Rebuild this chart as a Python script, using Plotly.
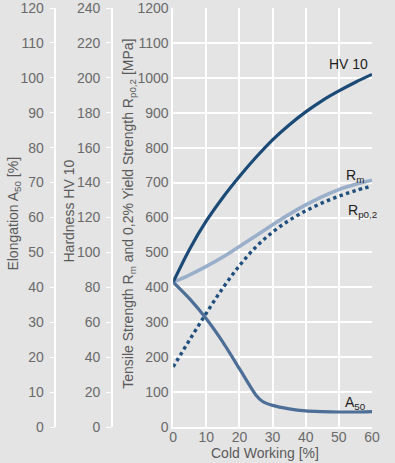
import plotly.graph_objects as go

# Cold working [%]
cold_working = [0, 5, 10, 15, 20, 25, 30, 35, 40, 45, 50, 55, 60]
# Hardness HV 10
hv10 = [83, 102, 118, 131.5, 143.5, 154.5, 164.5, 173, 180.5, 187, 192.5, 197.5, 202]
# Tensile strength Rm [MPa]
rm = [415, 436, 460, 487, 517, 548, 579, 609, 636, 660, 680, 695, 707]
# Yield strength Rp0,2 [MPa]
rp02 = [172, 250, 326, 398, 462, 516, 558, 592, 619, 642, 661, 677, 690]
# Elongation A50 [%]
a50_x = [0, 5, 10, 15, 20, 25, 27, 30, 35, 40, 45, 50, 55, 60]
a50 = [41.5, 36.7, 31, 24.3, 16.7, 9.1, 7.3, 6.2, 5.2, 4.6, 4.4, 4.3, 4.3, 4.4]

mpa_ticks = list(range(0, 1201, 100))
hv_ticks = list(range(0, 241, 20))
a_ticks = list(range(0, 121, 10))
x_ticks = list(range(0, 61, 10))

BG = "#e4e4e4"
TICKCOL = "#6a6a6a"
FONT = "Liberation Sans, Arial, sans-serif"

W, H = 395, 463
ML, MR, MT, MB = 0, 23, 7, 36
PW = W - ML - MR
PH = H - MT - MB
XL = 171  # left edge of plot area in px

fig = go.Figure()
fig.add_trace(go.Scatter(x=a50_x, y=a50, yaxis="y3", mode="lines",
                         line=dict(color="#4c6e97", width=3.2, shape="spline", smoothing=0.6),
                         showlegend=False, hoverinfo="skip"))
fig.add_trace(go.Scatter(x=cold_working, y=rm, yaxis="y", mode="lines",
                         line=dict(color="#9aafca", width=3.6, shape="spline", smoothing=1.0),
                         showlegend=False, hoverinfo="skip"))
fig.add_trace(go.Scatter(x=cold_working, y=rp02, yaxis="y", mode="lines",
                         line=dict(color="#1f4f7e", width=3.4, dash="dot", shape="spline", smoothing=1.0),
                         showlegend=False, hoverinfo="skip"))
fig.add_trace(go.Scatter(x=cold_working, y=hv10, yaxis="y2", mode="lines",
                         line=dict(color="#1b4a77", width=3.2, shape="spline", smoothing=1.0),
                         showlegend=False, hoverinfo="skip"))

axis_common = dict(showline=True, linecolor="white", linewidth=1.5,
                   tickfont=dict(family=FONT, size=14, color=TICKCOL),
                   zeroline=False, ticklabeloverflow="allow")
side_ticks = dict(ticks="outside", ticklen=5, tickcolor="white", tickwidth=1,
                  ticklabelstandoff=3)

fig.update_layout(
    width=W, height=H,
    margin=dict(l=ML, r=MR, t=MT, b=MB, pad=0),
    paper_bgcolor=BG, plot_bgcolor=BG,
    font=dict(family=FONT),
    xaxis=dict(domain=[XL / PW, 1], range=[0, 60], tickvals=x_ticks, ticks="",
               ticklabelstandoff=-4,
               showgrid=True, gridcolor="white", gridwidth=1.5,
               **axis_common),
    yaxis=dict(range=[0, 1200], tickvals=mpa_ticks, anchor="x", ticks="",
               showgrid=True, gridcolor="white", gridwidth=1.5,
               **axis_common),
    yaxis2=dict(range=[0, 240], tickvals=hv_ticks, overlaying="y", anchor="free",
                position=109 / PW, side="left", showgrid=False, **side_ticks, **axis_common),
    yaxis3=dict(range=[0, 120], tickvals=a_ticks, overlaying="y", anchor="free",
                position=52 / PW, side="left", showgrid=False, **side_ticks, **axis_common),
)

title_font = dict(family=FONT, size=14, color="#5a5a5a")
ann = []
# axis titles
ann.append(dict(text="Elongation A<sub>50</sub> [%]", xref="paper", yref="paper",
                x=9.7 / PW, y=(MT + PH - 213.5) / PH, textangle=-90, showarrow=False,
                font=title_font, xanchor="center", yanchor="middle"))
ann.append(dict(text="Hardness HV 10", xref="paper", yref="paper",
                x=65.7 / PW, y=(MT + PH - 210) / PH, textangle=-90, showarrow=False,
                font=title_font, xanchor="center", yanchor="middle"))
ann.append(dict(text="Tensile Strength R<sub>m</sub> and 0,2% Yield Strength R<sub>p0,2</sub> [MPa]",
                xref="paper", yref="paper",
                x=125.6 / PW, y=(MT + PH - 213) / PH, textangle=-90, showarrow=False,
                font=title_font, xanchor="center", yanchor="middle"))
ann.append(dict(text="Cold Working [%]", xref="paper", yref="paper",
                x=263.7 / PW, y=0, yshift=-26, showarrow=False,
                font=title_font, xanchor="center", yanchor="middle"))
# curve labels
lab_font = dict(family=FONT, size=14, color="#1e1e1e")
ann.append(dict(text="HV 10", xref="x", yref="y", x=52.9, y=1039, showarrow=False,
                font=lab_font, xanchor="center", yanchor="middle"))
ann.append(dict(text="R<sub>m</sub>", xref="x", yref="y", x=55.0, y=719, showarrow=False,
                font=lab_font, xanchor="center", yanchor="middle"))
ann.append(dict(text="R<sub>p0,2</sub>", xref="x", yref="y", x=57.1, y=619, showarrow=False,
                font=lab_font, xanchor="center", yanchor="middle"))
ann.append(dict(text="A<sub>50</sub>", xref="x", yref="y", x=55.1, y=70, showarrow=False,
                font=lab_font, xanchor="center", yanchor="middle"))
fig.update_layout(annotations=ann)

fig.write_html("out.html", config={"displayModeBar": False},
               post_script="document.body.style.margin='0px';"
                           "document.body.style.background='" + BG + "';")
